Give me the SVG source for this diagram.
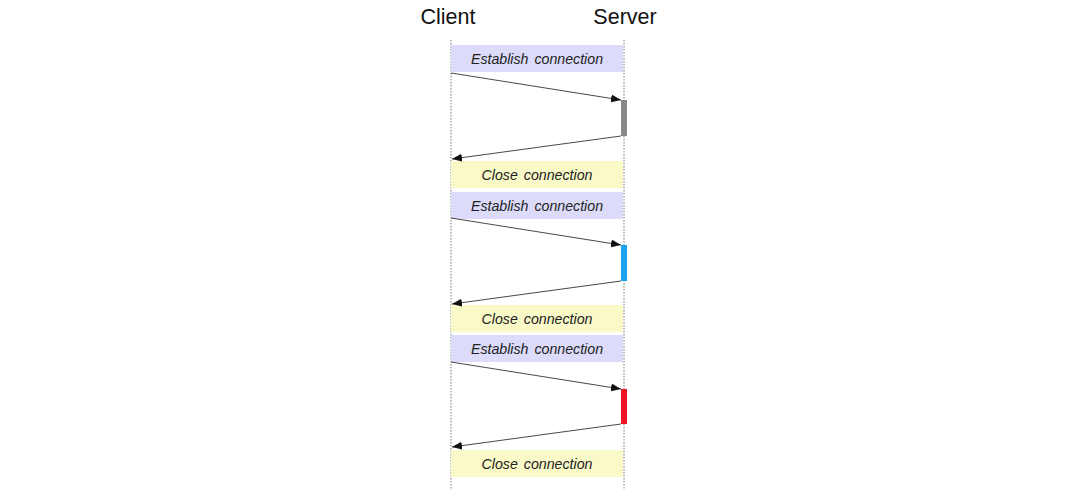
<svg xmlns="http://www.w3.org/2000/svg" width="1080" height="500" viewBox="0 0 1080 500">
<style>
.title{font-family:"Liberation Sans",Arial,sans-serif;font-size:21.5px;fill:#111;text-anchor:middle}
.lbl{font-family:"Liberation Sans",Arial,sans-serif;font-size:14.2px;font-style:italic;fill:#222;text-anchor:middle;word-spacing:2px}
.est{fill:#dcdcfa}
.cls{fill:#fafac8}
.life{stroke:#777;stroke-width:1;stroke-dasharray:1.5,1.5;fill:none}
.msg{stroke:#333;stroke-width:0.9;fill:none;marker-end:url(#ah)}
</style>
<defs>
<marker id="ah" viewBox="0 0 10 8" refX="10" refY="4" markerWidth="10" markerHeight="8" markerUnits="userSpaceOnUse" orient="auto">
<path d="M0,0 L10,4 L0,8 Z" fill="#111"/>
</marker>
</defs>
<rect width="1080" height="500" fill="#fff"/>
<g id="client">
<text class="title" x="448" y="23.5">Client</text>
<line class="life" x1="451" y1="40" x2="451" y2="490"/>
</g>
<g id="server">
<text class="title" x="625" y="23.5">Server</text>
<line class="life" x1="624" y1="40" x2="624" y2="490"/>
</g>
<g id="establish1"><rect class="est" x="451" y="45" width="172" height="27"/><text class="lbl" x="537" y="64">Establish connection</text></g>
<g id="close1"><rect class="cls" x="451" y="161" width="172" height="27"/><text class="lbl" x="537" y="180">Close connection</text></g>
<g id="establish2"><rect class="est" x="451" y="192" width="172" height="27"/><text class="lbl" x="537" y="211">Establish connection</text></g>
<g id="close2"><rect class="cls" x="451" y="305" width="172" height="27"/><text class="lbl" x="537" y="324">Close connection</text></g>
<g id="establish3"><rect class="est" x="451" y="335" width="172" height="27"/><text class="lbl" x="537" y="354">Establish connection</text></g>
<g id="close3"><rect class="cls" x="451" y="450" width="172" height="27"/><text class="lbl" x="537" y="469">Close connection</text></g>
<g id="activation1"><rect x="621" y="100" width="6" height="36" fill="#888"/></g>
<g id="activation2"><rect x="621" y="245" width="6" height="36" fill="#1ea0f0"/></g>
<g id="activation3"><rect x="621" y="389" width="6" height="35" fill="#f01428"/></g>
<g id="connectors">
<line class="msg" x1="451" y1="73" x2="621" y2="100"/>
<line class="msg" x1="621" y1="136" x2="452" y2="159"/>
<line class="msg" x1="451" y1="218" x2="621" y2="245"/>
<line class="msg" x1="621" y1="281" x2="452" y2="304"/>
<line class="msg" x1="451" y1="362" x2="621" y2="389"/>
<line class="msg" x1="621" y1="424" x2="452" y2="447"/>
</g>
</svg>
